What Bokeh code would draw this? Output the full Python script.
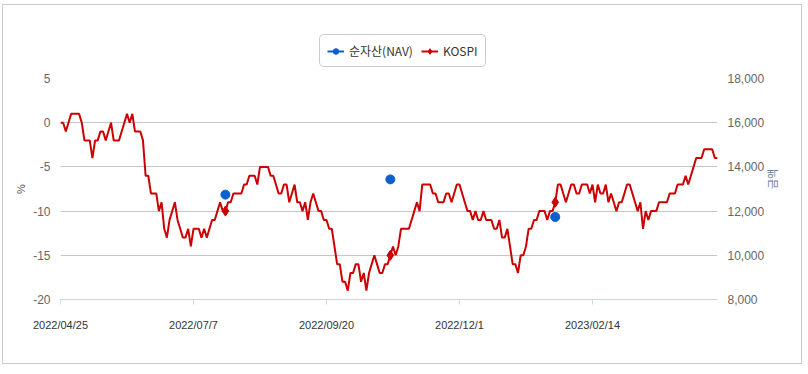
import math
from bokeh.plotting import figure
from bokeh.layouts import column
from bokeh.models import (Range1d, LinearAxis, FixedTicker, NumeralTickFormatter,
                          Legend, LegendItem)
from bokeh.embed import file_html
from bokeh.resources import INLINE

# ---- data ----
x_tick_index = [0, 50, 100, 150, 200]
x_tick_labels = ["2022/04/25", "2022/07/7", "2022/09/20", "2022/12/1", "2023/02/14"]

kospi_pct = [
    0, 0, -1, 0, 1, 1, 1, 1, 0, -2,
    -2, -2, -4, -2, -2, -1, -1, -2, -1, 0,
    -2, -2, -2, -1, 0, 1, 0, 1, -1, -1,
    -1, -2, -6, -6, -8, -8, -8, -10, -9, -12,
    -13, -11, -10, -9, -11, -12, -13, -13, -12, -14,
    -12, -12, -12, -13, -12, -13, -12, -11, -11, -10,
    -9, -10, -10, -9, -9, -8, -8, -8, -8, -7,
    -7, -6, -6, -6, -7, -5, -5, -5, -5, -6,
    -6, -7, -8, -8, -7, -7, -9, -8, -7, -9,
    -9, -10, -9, -11, -9, -8, -9, -10, -10, -11,
    -11, -12, -12, -14, -16, -16, -18, -18, -19, -17,
    -17, -16, -16, -18, -17, -19, -17, -16, -15, -16,
    -17, -17, -16, -16, -15, -14, -15, -14, -12, -12,
    -12, -12, -11, -10, -9, -10, -7, -7, -7, -7,
    -8, -8, -9, -9, -9, -8, -8, -9, -8, -7,
    -7, -8, -9, -10, -10, -11, -10, -11, -11, -10,
    -11, -11, -11, -12, -12, -11, -13, -13, -12, -14,
    -16, -16, -17, -15, -15, -14, -12, -12, -11, -11,
    -10, -10, -10, -11, -10, -10, -9, -7, -7, -8,
    -9, -8, -7, -7, -8, -8, -7, -7, -7, -8,
    -7, -9, -7, -8, -8, -7, -9, -8, -9, -10,
    -9, -9, -8, -7, -7, -8, -9, -10, -9, -12,
    -10, -11, -10, -10, -10, -9, -9, -9, -9, -8,
    -8, -8, -7, -7, -7, -6, -7, -6, -5, -4,
    -4, -4, -3, -3, -3, -3, -4, -4,
]

nav_index = [62, 124, 186]
nav_amount = [12745, 13435, 11735]

left_ticks = [-20, -15, -10, -5, 0, 5]
right_ticks = [8000, 10000, 12000, 14000, 16000, 18000]
series_names = ["순자산(NAV)", "KOSPI"]

RED = "#cc0000"
BLUE = "#0b5fd0"

xs = list(range(len(kospi_pct)))
kospi_at_nav = [kospi_pct[i] for i in nav_index]

# ---------- main chart ----------
p = figure(width=798, height=293, output_backend="svg", toolbar_location=None,
           x_range=Range1d(0, len(kospi_pct) - 1), y_range=Range1d(-20, 5),
           min_border_left=57, min_border_right=84, min_border_top=8,
           min_border_bottom=64)
p.extra_y_ranges = {"amt": Range1d(8000, 18000)}
p.outline_line_color = None
p.background_fill_color = "white"
p.border_fill_color = "white"

p.xgrid.visible = False
p.ygrid.ticker = FixedTicker(ticks=left_ticks)
p.ygrid.grid_line_color = "#c6c6c6"
p.ygrid.grid_line_width = 1

xa = p.xaxis[0]
xa.ticker = FixedTicker(ticks=x_tick_index)
xa.major_label_overrides = {i: l for i, l in zip(x_tick_index, x_tick_labels)}
xa.axis_line_color = "#ccd6eb"
xa.major_tick_line_color = "#ccd6eb"
xa.major_tick_out = 5
xa.major_tick_in = 0
xa.minor_tick_line_color = None
xa.minor_tick_out = 0
xa.major_label_text_font = "Liberation Sans"
xa.major_label_text_font_size = "11px"
xa.major_label_text_color = "#333333"
xa.major_label_standoff = 14

ya = p.yaxis[0]
ya.ticker = FixedTicker(ticks=left_ticks)
ya.major_label_overrides = {v: str(v) for v in left_ticks}
ya.axis_line_color = None
ya.major_tick_line_color = None
ya.minor_tick_line_color = None
ya.major_tick_out = 0
ya.major_tick_in = 0
ya.minor_tick_out = 0
ya.major_label_standoff = 10
ya.major_label_text_font = "Liberation Sans"
ya.major_label_text_font_size = "12px"
ya.major_label_text_color = "#666666"
ya.axis_label = "%"
ya.axis_label_text_font = "Liberation Sans"
ya.axis_label_text_font_size = "11px"
ya.axis_label_text_font_style = "normal"
ya.axis_label_text_color = "#555555"
ya.axis_label_standoff = 3

ra = LinearAxis(y_range_name="amt", ticker=FixedTicker(ticks=right_ticks),
                formatter=NumeralTickFormatter(format="0,0"))
ra.axis_line_color = None
ra.major_tick_line_color = None
ra.minor_tick_line_color = None
ra.major_tick_out = 0
ra.major_tick_in = 0
ra.minor_tick_out = 0
ra.major_label_standoff = 10
ra.major_label_text_font = "Liberation Sans"
ra.major_label_text_font_size = "12px"
ra.major_label_text_color = "#666666"
ra.axis_label = "금액"
ra.axis_label_text_font = "Noto Sans CJK KR"
ra.axis_label_text_font_size = "11px"
ra.axis_label_text_font_style = "normal"
ra.axis_label_text_color = "#6a7a96"
ra.axis_label_standoff = 5
if hasattr(ra, "axis_label_orientation"):
    ra.axis_label_orientation = math.pi / 2
p.add_layout(ra, "right")

p.line(xs, kospi_pct, line_color=RED, line_width=2)
p.scatter(nav_index, kospi_at_nav, marker="diamond", size=10, color=RED)
p.scatter(nav_index, nav_amount, size=9, color=BLUE, y_range_name="amt")

# ---------- legend strip on top (same series, out of its view range) ----------
t = figure(width=798, height=65, output_backend="svg", toolbar_location=None,
           x_range=Range1d(-2, -1), y_range=Range1d(0, 1),
           x_axis_type=None, y_axis_type=None,
           min_border_left=0, min_border_right=0, min_border_top=0,
           min_border_bottom=0)
t.outline_line_color = None
t.xgrid.visible = False
t.ygrid.visible = False
t.background_fill_color = "white"
t.border_fill_color = "white"

nl = t.line(nav_index, nav_amount, line_color=BLUE, line_width=2)
ns = t.scatter(nav_index, nav_amount, size=9, color=BLUE)
kl = t.line(xs, kospi_pct, line_color=RED, line_width=2)
ks = t.scatter(nav_index, kospi_at_nav, marker="diamond", size=10, color=RED)

legend = Legend(items=[
    LegendItem(label=series_names[0], renderers=[nl, ns]),
    LegendItem(label=series_names[1], renderers=[kl, ks]),
], location=(259, 3), orientation="horizontal")
legend.border_line_color = "#999999"
legend.border_line_width = 1
legend.background_fill_color = "white"
legend.background_fill_alpha = 1
legend.padding = 7
legend.spacing = 8
legend.margin = 0
legend.glyph_width = 17
legend.glyph_height = 14
legend.label_height = 14
legend.label_standoff = 5
legend.label_text_font = "Noto Sans CJK KR"
legend.label_text_font_size = "12px"
legend.label_text_color = "#333333"
if hasattr(legend, "border_radius"):
    legend.border_radius = 5
t.add_layout(legend, "center")

layout = column(t, p, spacing=0)
layout.styles = {"border": "1px solid #cccccc", "margin-left": "2px",
                 "margin-top": "4px"}

open("out.html", "w").write(file_html(layout, INLINE))
